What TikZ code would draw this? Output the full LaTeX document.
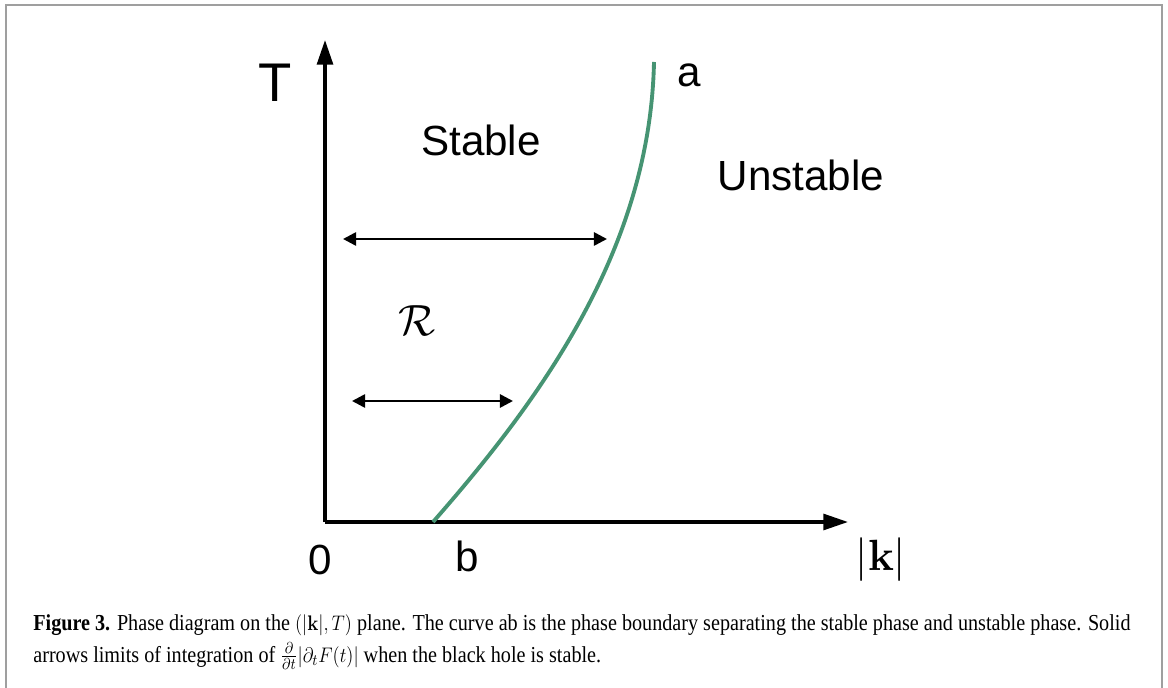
\documentclass[tikz,border=0pt]{standalone}
\usepackage[no-math]{fontspec}
\setmainfont{Liberation Serif}
\newfontfamily\labelfont{Liberation Sans}
\usepackage{tikz}
\usetikzlibrary{arrows.meta}
\colorlet{framegray}{gray!75}
\definecolor{boundary}{RGB}{70,148,115}

\begin{document}
\begin{tikzpicture}[x=0.02cm, y=-0.02cm,
        axis/.style={line width=1.9pt, -{Triangle[length=14pt, width=9pt]}},
        limit/.style={line width=1.5pt, {Triangle[length=7.5pt, width=7.5pt]}-{Triangle[length=7.5pt, width=7.5pt]}},
        sanslabel/.style={inner sep=0pt, font=\labelfont\fontsize{24}{28}\selectfont},
        captionline/.style={inner sep=0pt, anchor=base west, font=\fontsize{13}{16}\selectfont}]
        % page size and frame
        \useasboundingbox (0,0) rectangle (1168,688);
        \draw[framegray, line width=1pt] (6,688) -- (6,5) -- (1162,5) -- (1162,688);
        % origin, axis ends and curve ends
        \coordinate (O) at (325,522);
        \coordinate (Tend) at (325,40);
        \coordinate (Kend) at (848,522);
        \coordinate (b) at (433,522);
        \coordinate (a) at (654,62);
        % ends of the integration limits
        \coordinate (upL) at (343,239);
        \coordinate (upR) at (607,239);
        \coordinate (lowL) at (352,401);
        \coordinate (lowR) at (513,401);
        % axes
        \draw[axis] (O) -- (Tend);
        \draw[axis] (O) -- (Kend);
        % phase boundary ab
        \draw[boundary, line width=2.2pt] (b) .. controls (540,400) and (650,250) .. (a);
        % integration limits
        \draw[limit] (upL) -- (upR);
        \draw[limit] (lowL) -- (lowR);
        % labels
        \node[sanslabel, font=\labelfont\fontsize{31}{36}\selectfont] (Tlab) at (275,83) {T};
        \node[sanslabel] (alab) at (689,75) {a};
        \node[sanslabel] (stable) at (481,140) {Stable};
        \node[sanslabel] (unstable) at (801,175) {Unstable};
        \node[sanslabel] (zero) at (320,560) {0};
        \node[sanslabel] (blab) at (467,556) {b};
        \node[inner sep=0pt, font=\fontsize{36}{42}\selectfont] (Rlab) at (417,321) {$\mathcal{R}$};
        \node[inner sep=0pt, font=\fontsize{38}{44}\selectfont] (klab) at (881,560) {$\big|\mathbf{k}\big|$};
        % caption
        \node[captionline] (cap1) at (33,630) {\scalebox{0.883}[1]{\textbf{Figure 3.} Phase diagram on the $(|\mathbf{k}|, T)$ plane. The curve ab is the phase boundary separating the stable phase and unstable phase. Solid}};
        \node[captionline] (cap2) at (33,662) {\scalebox{0.883}[1]{arrows limits of integration of $\frac{\partial}{\partial t}|\partial_t F(t)|$ when the black hole is stable.}};
\end{tikzpicture}
\end{document}
